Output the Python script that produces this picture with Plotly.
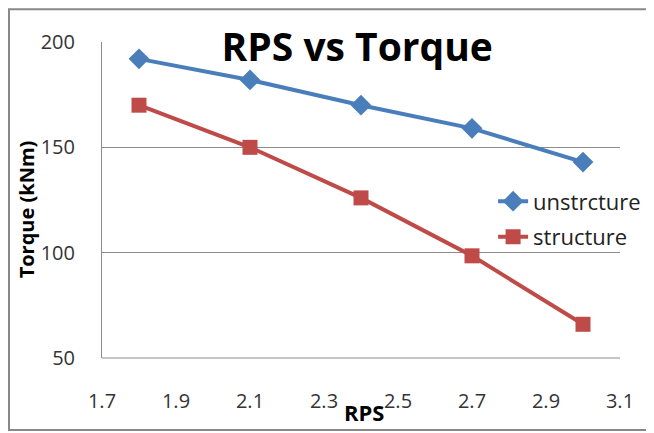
import plotly.graph_objects as go

rps = [1.8, 2.1, 2.4, 2.7, 3.0]
unstructure = [192, 182, 170, 159, 143]
structure = [170, 150, 126, 98.5, 66]
x_ticks = [1.7, 1.9, 2.1, 2.3, 2.5, 2.7, 2.9, 3.1]
y_ticks = [50, 100, 150, 200]

FONT = "'Open Sans', Lato, sans-serif"

fig = go.Figure()
fig.add_trace(go.Scatter(
    x=rps, y=unstructure, name="unstrcture", mode="lines+markers",
    line=dict(color="#4a7ebb", width=4),
    marker=dict(symbol="diamond", size=16, color="#4a7ebb"),
    legendgroup="a"))
fig.add_trace(go.Scatter(
    x=rps, y=structure, name="structure", mode="lines+markers",
    line=dict(color="#be4b48", width=4),
    marker=dict(symbol="square", size=15, color="#be4b48"),
    legendgroup="b"))

fig.update_layout(
    width=654, height=433,
    margin=dict(l=94, r=42, t=34, b=83),
    paper_bgcolor="white", plot_bgcolor="white",
    font=dict(family=FONT, color="#222"),
    title=dict(text="<b>RPS vs Torque</b>", x=0.534, xanchor="center",
               y=0.908, yanchor="middle", yref="container",
               font=dict(size=39, color="black", family=FONT)),
    showlegend=True,
    legend=dict(x=0.755, y=0.562, xanchor="left", yanchor="top",
                font=dict(size=22, color="#222"), bgcolor="rgba(0,0,0,0)",
                tracegroupgap=4),
    xaxis=dict(range=[1.7, 3.1], tickvals=x_ticks,
               ticktext=[f"{v:.1f}" for v in x_ticks],
               showgrid=False, zeroline=False, showline=False,
               ticks="", tickfont=dict(size=20, color="#333"),
               ticklabelstandoff=29),
    yaxis=dict(range=[50, 200], tickvals=y_ticks,
               showgrid=True, gridcolor="#8c8c8c", gridwidth=1,
               zeroline=False, showline=True, linecolor="#8c8c8c", linewidth=1,
               ticks="", tickfont=dict(size=20, color="#333"),
               ticklabelstandoff=22),
    shapes=[
        dict(type="line", xref="paper", yref="paper", x0=0, x1=1, y0=0, y1=0,
             line=dict(color="#8c8c8c", width=1), layer="below"),
        dict(type="rect", xref="paper", yref="paper",
             x0=-0.1795, x1=1.064, y0=-0.228, y1=1.104,
             line=dict(color="#888", width=2), fillcolor="rgba(0,0,0,0)"),
    ],
    annotations=[
        dict(text="<b>Torque (kNm)</b>", xref="paper", yref="paper",
             x=-0.145, y=0.47, textangle=-90, showarrow=False,
             xanchor="center", yanchor="middle",
             font=dict(size=20, color="black", family=FONT)),
        dict(text="<b>RPS</b>", xref="paper", yref="paper",
             x=0.505, y=-0.171, showarrow=False,
             xanchor="center", yanchor="middle",
             font=dict(size=22, color="black", family=FONT)),
    ],
)

fig.write_html("out.html")
